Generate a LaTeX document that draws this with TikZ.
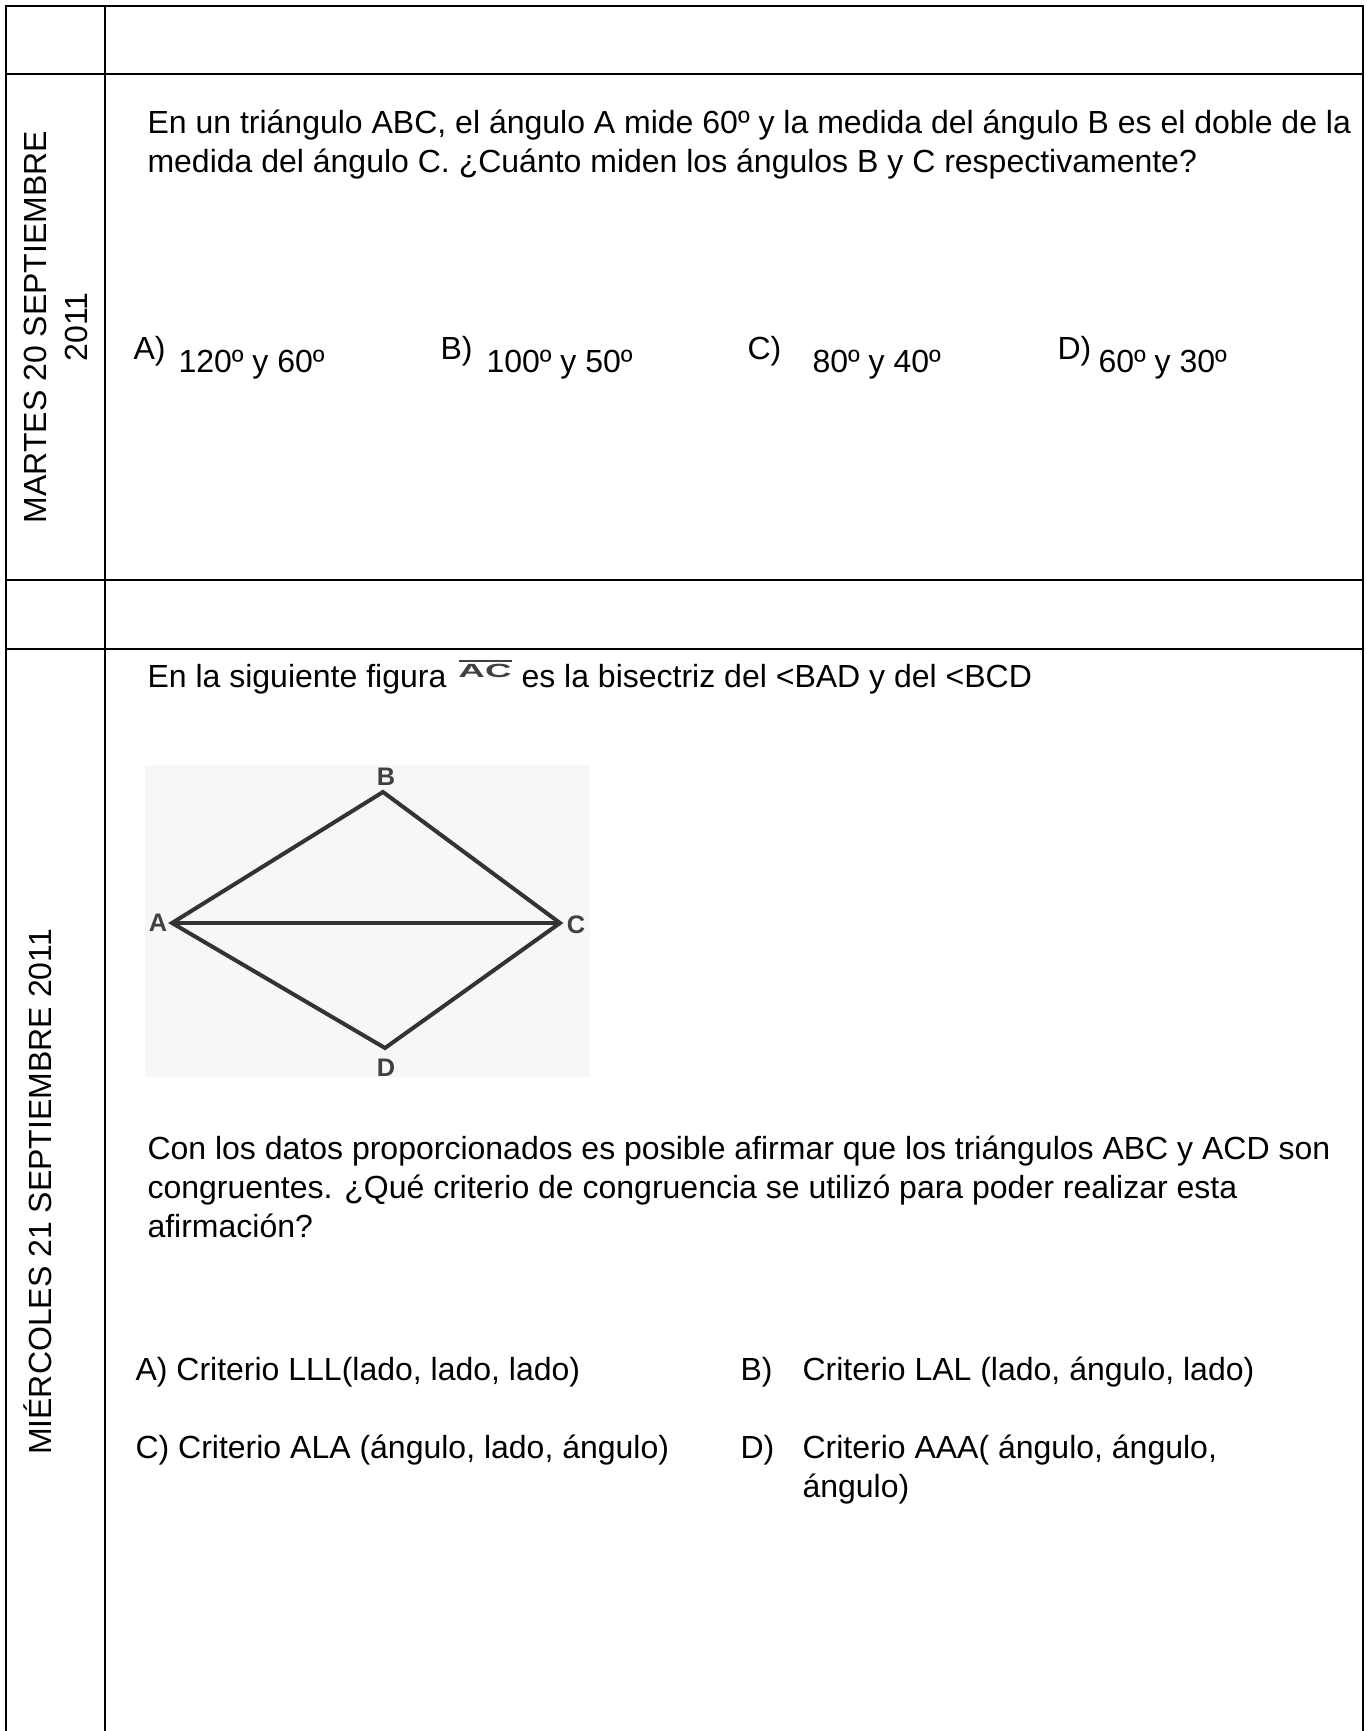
\documentclass[tikz,border=0pt]{standalone}
\usepackage{fontspec}
\setmainfont{Liberation Sans}
\begin{document}
\begin{tikzpicture}[x=0.375pt,y=-0.375pt,
  txt/.style={anchor=base west,inner sep=0pt,font=\fontsize{12}{14.6}\selectfont},
  vtxt/.style={rotate=90,inner sep=0pt,align=center,font=\fontsize{12}{15.5}\selectfont},
  rule/.style={line width=0.75pt},
  edge/.style={line width=1.5pt,draw=black!80,line join=miter},
  vlab/.style={inner sep=0pt,text=black!75,font=\bfseries\fontsize{9.5}{10}\selectfont}]
\useasboundingbox (0,0) rectangle (1366,1731);
% table grid
\draw[rule] (6,1731) -- (6,6) -- (1363,6) -- (1363,1731);
\draw[rule] (105,6) -- (105,1731);
\draw[rule] (6,74) -- (1363,74);
\draw[rule] (6,580) -- (1363,580);
\draw[rule] (6,649) -- (1363,649);
% left column labels
\node[vtxt] (d1) at (56,327) {MARTES 20 SEPTIEMBRE\\2011};
\node[vtxt] (d2) at (38,1192) {MIÉRCOLES 21 SEPTIEMBRE 2011};
% question 1
\node[txt] (q1a) at (147,133) {En un triángulo ABC, el ángulo A mide 60º y la medida del ángulo B es el doble de la};
\node[txt] (q1b) at (147,172) {medida del ángulo C. ¿Cuánto miden los ángulos B y C respectivamente?};
\node[txt] (oA) at (133,359) {A)};
\node[txt] (vA) at (178,372) {120º y 60º};
\node[txt] (oB) at (440,359) {B)};
\node[txt] (vB) at (486,372) {100º y 50º};
\node[txt] (oC) at (747,359) {C)};
\node[txt] (vC) at (812,372) {80º y 40º};
\node[txt] (oD) at (1057,359) {D)};
\node[txt] (vD) at (1098,372) {60º y 30º};
% question 2
\node[txt] (q2a) at (147,687) {En la siguiente figura};
\node[inner sep=0pt,text=black!75] (ac) at (485,671) {\resizebox{19.9pt}{5pt}{\bfseries AC}};
\draw[line width=0.8pt,black!75] (459,661) -- (512,661);
\node[txt] (q2b) at (521,687) {es la bisectriz del <BAD y del <BCD};
% figure
\fill[black!3] (145,765) rectangle (590,1077);
\coordinate (A) at (172,923);
\coordinate (B) at (383,792);
\coordinate (C) at (560,923);
\coordinate (D) at (385,1048);
\draw[edge] (A) -- (B) -- (C) -- (D) -- cycle;
\draw[edge] (A) -- (C);
\node[vlab] (lB) at (386,777) {B};
\node[vlab] (lA) at (158,923) {A};
\node[vlab] (lC) at (576,925) {C};
\node[vlab] (lD) at (386,1068) {D};
% paragraph
\node[txt] (p1) at (147,1159) {Con los datos proporcionados es posible afirmar que los triángulos ABC y ACD son};
\node[txt] (p2) at (147,1198) {congruentes. ¿Qué criterio de congruencia se utilizó para poder realizar esta};
\node[txt] (p3) at (147,1237) {afirmación?};
% options
\node[txt] (rA) at (135,1380) {A) Criterio LLL(lado, lado, lado)};
\node[txt] (rBl) at (740,1380) {B)};
\node[txt] (rB) at (802,1380) {Criterio LAL (lado, ángulo, lado)};
\node[txt] (rC) at (135,1458) {C) Criterio ALA (ángulo, lado, ángulo)};
\node[txt] (rDl) at (740,1458) {D)};
\node[txt] (rD) at (802,1458) {Criterio AAA( ángulo, ángulo,};
\node[txt] (rD2) at (802,1497) {ángulo)};
\end{tikzpicture}
\end{document}
